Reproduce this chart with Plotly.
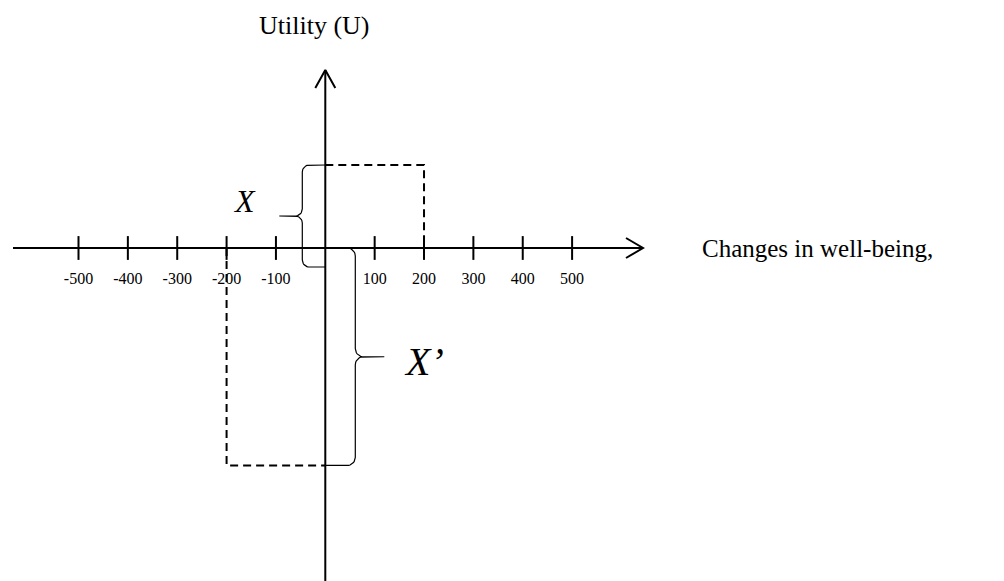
import numpy as np
import plotly.graph_objects as go

# ---- data ----
TICK_VALUES = [-500, -400, -300, -200, -100, 100, 200, 300, 400, 500]
TICK_LABELS = ["-500", "-400", "-300", "-200", "-100", "100", "200", "300", "400", "500"]
GAIN = 200          # change in well-being (gain)
LOSS = -200         # change in well-being (loss)
U_GAIN = 100        # utility of the gain (X)
U_LOSS = -262       # utility of the loss (X')
X_TITLE = "Changes in well-being,"
Y_TITLE = "Utility (U)"
BRACE_LABELS = ["X", "X\u2019"]

# ---- scales (pixels per unit) ----
W, H = 1004, 581
SX = 0.4936
SY = 0.83
X0PX, Y0PX = 325.3, 248.0
XR = [-X0PX / SX, (W - X0PX) / SX]
YR = [-(H - Y0PX) / SY, Y0PX / SY]

def px_x(p):  # horizontal pixel length -> data units
    return p / SX

def px_y(p):
    return p / SY

fig = go.Figure()
AX = dict(color="black", width=2)

# horizontal axis
x_start, x_end = XR[0] + px_x(13), XR[0] + px_x(643)
fig.add_trace(go.Scatter(x=[x_start, x_end], y=[0, 0], mode="lines", line=AX))
fig.add_trace(go.Scatter(x=[x_end - px_x(17), x_end, x_end - px_x(17)],
                         y=[px_y(10), 0, -px_y(10)], mode="lines", line=AX))
# vertical axis
u_top = px_y(Y0PX - 70)
fig.add_trace(go.Scatter(x=[0, 0], y=[YR[0] - 5, u_top], mode="lines", line=AX))
fig.add_trace(go.Scatter(x=[-px_x(10), 0, px_x(10)],
                         y=[u_top - px_y(18), u_top, u_top - px_y(18)], mode="lines", line=AX))

# ticks
fig.add_trace(go.Scatter(x=TICK_VALUES, y=[0] * len(TICK_VALUES), mode="markers",
                         marker=dict(symbol="line-ns", size=17,
                                     line=dict(color="black", width=2))))
fig.add_trace(go.Scatter(x=TICK_VALUES, y=[-px_y(32)] * len(TICK_VALUES), mode="text",
                         text=TICK_LABELS,
                         textfont=dict(family="Liberation Serif", size=16, color="black")))

# dashed boxes
DASH = dict(color="black", width=2, dash="8px,5px")
fig.add_trace(go.Scatter(x=[0, GAIN, GAIN], y=[U_GAIN, U_GAIN, 0], mode="lines", line=DASH))
fig.add_trace(go.Scatter(x=[LOSS, LOSS, 0], y=[0, U_LOSS, U_LOSS], mode="lines", line=DASH))


def brace(x_end, x_stem, x_tip, y_top, y_bot, rx, ry, n=10):
    d = np.sign(x_end - x_stem)
    y_mid = (y_top + y_bot) / 2
    t = np.linspace(0, np.pi / 2, n)
    xs, ys = [x_end], [y_top]
    cx, cy = x_stem + d * rx, y_top - ry
    xs += list(cx - d * rx * np.sin(t)); ys += list(cy + ry * np.cos(t))
    cx, cy = x_stem - d * rx, y_mid + ry
    xs += list(cx + d * rx * np.cos(t)); ys += list(cy - ry * np.sin(t))
    xs += [x_tip, x_stem - d * rx]; ys += [y_mid, y_mid]
    cx, cy = x_stem - d * rx, y_mid - ry
    xs += list(cx + d * rx * np.sin(t)); ys += list(cy + ry * np.cos(t))
    cx, cy = x_stem + d * rx, y_bot + ry
    xs += list(cx - d * rx * np.cos(t)); ys += list(cy - ry * np.sin(t))
    xs += [x_end]; ys += [y_bot]
    return xs, ys

BR = dict(color="black", width=1.2)
bx, by = brace(0, -px_x(23), -px_x(46), U_GAIN, -px_y(19), px_x(7), px_y(7))
fig.add_trace(go.Scatter(x=bx, y=by, mode="lines", line=BR))
bx, by = brace(0, px_x(30), px_x(59), 0, U_LOSS, px_x(8), px_y(8))
fig.add_trace(go.Scatter(x=bx, y=by, mode="lines", line=BR))

SERIF = "Liberation Serif"
fig.add_annotation(x=-px_x(11), y=px_y(Y0PX - 25), text=Y_TITLE, showarrow=False,
                   xanchor="center", yanchor="middle",
                   font=dict(family=SERIF, size=26, color="black"))
fig.add_annotation(x=XR[0] + px_x(700), y=0, text=X_TITLE, showarrow=False,
                   xanchor="left", yanchor="middle",
                   font=dict(family=SERIF, size=25, color="black"))
fig.add_annotation(x=-px_x(67), y=px_y(Y0PX - 201), text="<i>%s</i>" % BRACE_LABELS[0],
                   showarrow=False, xanchor="right", yanchor="middle",
                   font=dict(family=SERIF, size=32, color="black"))
fig.add_annotation(x=px_x(77), y=-px_y(361 - Y0PX), text="<i>%s</i>" % BRACE_LABELS[1],
                   showarrow=False, xanchor="left", yanchor="middle",
                   font=dict(family=SERIF, size=40, color="black"))

fig.update_layout(width=W, height=H, margin=dict(l=0, r=0, t=0, b=0),
                  paper_bgcolor="white", plot_bgcolor="white", showlegend=False,
                  xaxis=dict(range=XR, visible=False, fixedrange=True),
                  yaxis=dict(range=YR, visible=False, fixedrange=True))

fig.write_html("out.html", config={"displayModeBar": False},
               post_script="document.body.style.margin='0';document.body.style.overflow='hidden';")
